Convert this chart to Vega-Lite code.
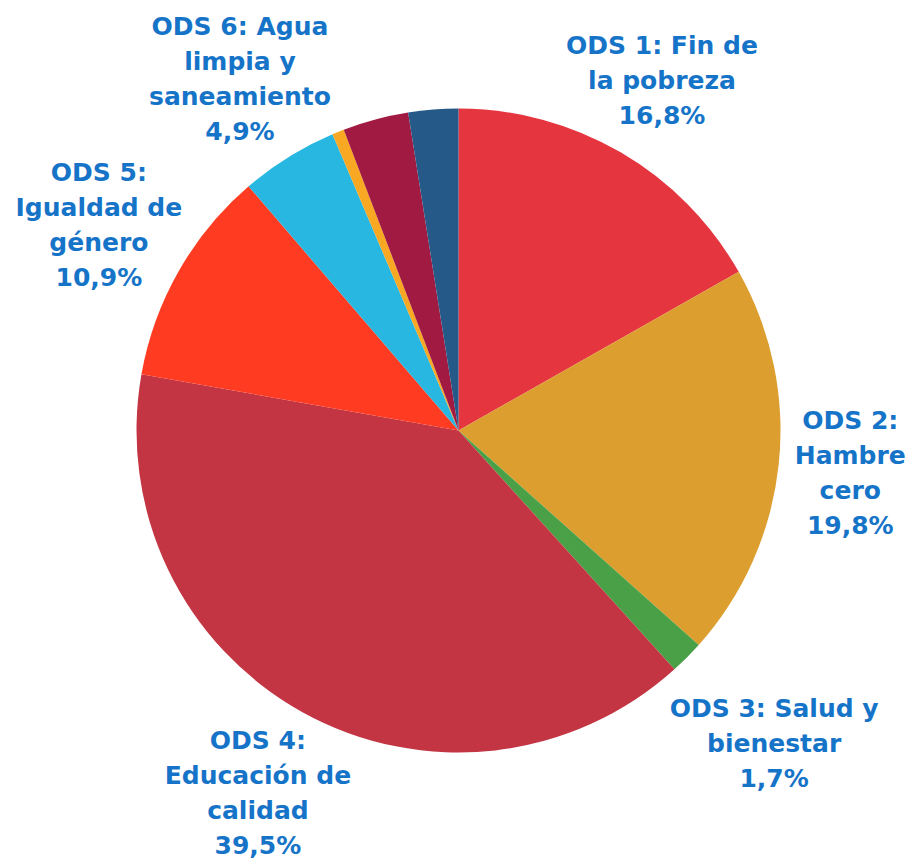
{
  "$schema": "https://vega.github.io/schema/vega-lite/v6.json",
  "width": 917,
  "height": 861,
  "autosize": "none",
  "padding": 0,
  "background": "white",
  "config": {
    "view": {"stroke": null},
    "text": {
      "lineBreak": "\n",
      "lineHeight": 35,
      "font": "DejaVu Sans",
      "fontWeight": "bold",
      "fontSize": 25,
      "color": "#1674C8",
      "align": "center",
      "baseline": "middle"
    }
  },
  "data": {
    "values": [
      {"idx": 1, "ods": "ODS 1", "value": 16.8, "label": "ODS 1: Fin de\nla pobreza\n16,8%"},
      {"idx": 2, "ods": "ODS 2", "value": 19.8, "label": "ODS 2:\nHambre\ncero\n19,8%"},
      {"idx": 3, "ods": "ODS 3", "value": 1.7, "label": "ODS 3: Salud y\nbienestar\n1,7%"},
      {"idx": 4, "ods": "ODS 4", "value": 39.5, "label": "ODS 4:\nEducación de\ncalidad\n39,5%"},
      {"idx": 5, "ods": "ODS 5", "value": 10.9, "label": "ODS 5:\nIgualdad de\ngénero\n10,9%"},
      {"idx": 6, "ods": "ODS 6", "value": 4.9, "label": "ODS 6: Agua\nlimpia y\nsaneamiento\n4,9%"},
      {"idx": 7, "ods": "ODS 7", "value": 0.6, "label": ""},
      {"idx": 8, "ods": "ODS 8", "value": 3.3, "label": ""},
      {"idx": 9, "ods": "ODS 9", "value": 2.5, "label": ""}
    ]
  },
  "encoding": {
    "theta": {"field": "value", "type": "quantitative", "stack": true},
    "order": {"field": "idx", "type": "quantitative"}
  },
  "layer": [
    {
      "mark": {"type": "arc", "outerRadius": 322},
      "encoding": {
        "color": {
          "field": "ods",
          "type": "nominal",
          "legend": null,
          "scale": {
            "domain": ["ODS 1", "ODS 2", "ODS 3", "ODS 4", "ODS 5", "ODS 6", "ODS 7", "ODS 8", "ODS 9"],
            "range": ["#E5353F", "#DC9E2E", "#4AA046", "#C33542", "#FF3B22", "#28B7E0", "#F8A823", "#A11A42", "#255A88"]
          }
        }
      }
    },
    {
      "mark": {"type": "text", "radius": 404, "dy": -35},
      "encoding": {
        "text": {"condition": {"test": "datum.ods === 'ODS 1'", "field": "label", "type": "nominal"}, "value": ""}
      }
    },
    {
      "mark": {"type": "text", "radius": 445, "dy": -35},
      "encoding": {
        "text": {"condition": {"test": "datum.ods === 'ODS 3'", "field": "label", "type": "nominal"}, "value": ""}
      }
    },
    {
      "mark": {"type": "text", "radius": 394, "dy": -52},
      "encoding": {
        "text": {"condition": {"test": "datum.ods === 'ODS 2'", "field": "label", "type": "nominal"}, "value": ""}
      }
    },
    {
      "mark": {"type": "text", "radius": 414, "dy": -52},
      "encoding": {
        "text": {"condition": {"test": "datum.ods === 'ODS 4' || datum.ods === 'ODS 5' || datum.ods === 'ODS 6'", "field": "label", "type": "nominal"}, "value": ""}
      }
    }
  ]
}
